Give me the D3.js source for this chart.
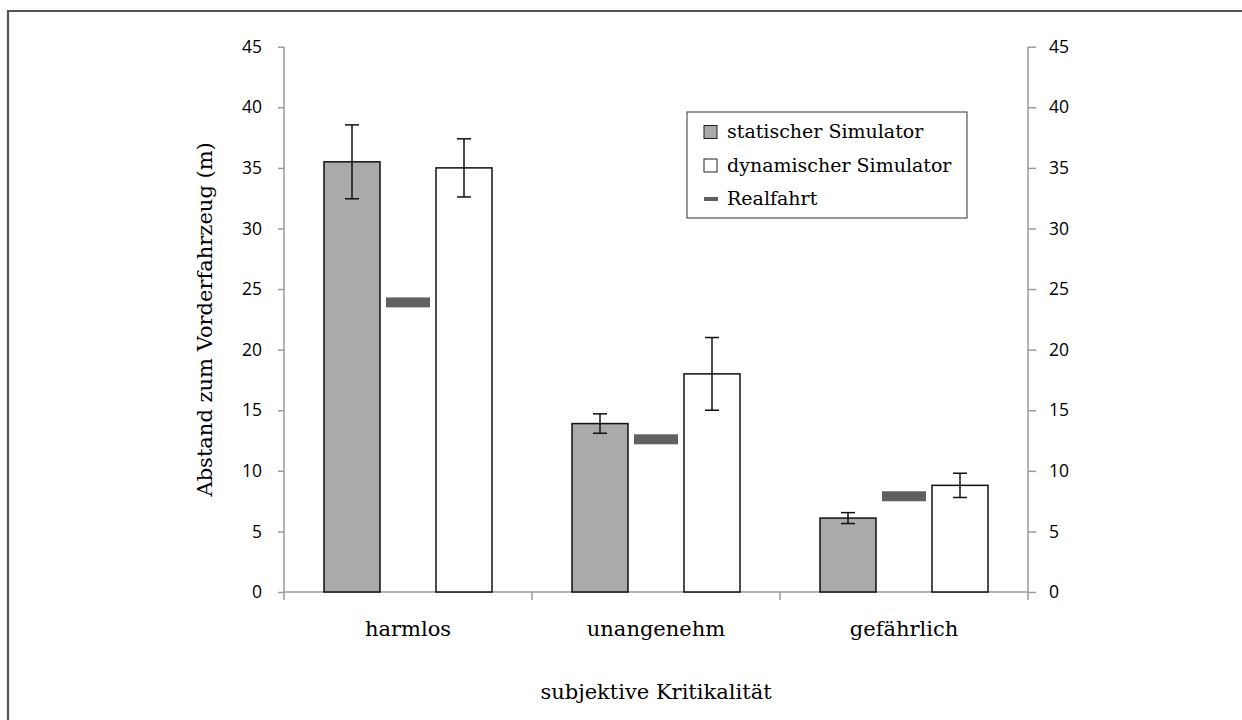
<!DOCTYPE html>
<html>
<head>
<meta charset="utf-8">
<script src="https://cdn.jsdelivr.net/npm/d3@7"></script>
<style>
  html, body { margin: 0; padding: 0; background: #fff; }
  svg { display: block; }
</style>
</head>
<body>
<svg id="chart" width="1242" height="720"></svg>
<script>
const categories = ["harmlos", "unangenehm", "gefährlich"];
const seriesNames = ["statischer Simulator", "dynamischer Simulator", "Realfahrt"];
const staticValues = [35.5, 13.9, 6.1];
const staticErrors = [3.05, 0.8, 0.45];
const dynamicValues = [35.0, 18.0, 8.8];
const dynamicErrors = [2.4, 3.0, 1.0];
const realValues = [23.9, 12.6, 7.9];
const yTicks = [0, 5, 10, 15, 20, 25, 30, 35, 40, 45];

const svg = d3.select("#chart");
const sansFont = "'Open Sans', 'Liberation Sans', sans-serif";
const serifFont = "'DejaVu Serif', 'Liberation Serif', serif";

// frame
svg.append("path")
  .attr("d", "M8,722 L8,11 L1244,11")
  .attr("fill", "none").attr("stroke", "#555").attr("stroke-width", 2.2);

const x0 = 284, x1 = 1028, yTop = 46.7, yBot = 592;
const x = d3.scaleBand().domain(categories).range([x0, x1]).padding(0);
const xs = d3.scaleBand().domain(["static", "real", "dynamic"]).range([40, x.bandwidth() - 40]).padding(0);
const y = d3.scaleLinear().domain([0, 45]).range([yBot, yTop]);

const axisColor = "#9a9a9a";

// left axis
const gl = svg.append("g").attr("transform", `translate(${x0},0)`)
  .call(d3.axisLeft(y).tickValues(yTicks).tickSize(6).tickPadding(16).tickFormat(d3.format("d")));
// right axis
const gr = svg.append("g").attr("transform", `translate(${x1},0)`)
  .call(d3.axisRight(y).tickValues(yTicks).tickSize(8).tickPadding(13).tickFormat(d3.format("d")));
[gl, gr].forEach(g => {
  g.select(".domain").attr("stroke", axisColor).attr("stroke-width", 1.5);
  g.selectAll(".tick line").attr("stroke", axisColor).attr("stroke-width", 1.5);
  g.selectAll(".tick text").attr("fill", "#000").style("font-family", sansFont).style("font-size", "17.5px");
});
gl.select(".domain").attr("d", `M0,${yTop}H0V${yBot}`);
gr.select(".domain").attr("d", `M0,${yTop}H0V${yBot}`);

// x axis
const gx = svg.append("g").attr("transform", `translate(0,${yBot})`);
gx.append("line").attr("x1", x0).attr("x2", x1).attr("y1", 0).attr("y2", 0)
  .attr("stroke", axisColor).attr("stroke-width", 1.5);
const boundaries = categories.map(c => x(c)).concat([x(categories[categories.length - 1]) + x.bandwidth()]);
gx.selectAll("line.tk").data(boundaries).enter().append("line").attr("class", "tk")
  .attr("x1", d => d).attr("x2", d => d).attr("y1", 0).attr("y2", 8)
  .attr("stroke", axisColor).attr("stroke-width", 1.5);
gx.selectAll("text.cat").data(categories).enter().append("text").attr("class", "cat")
  .attr("x", d => x(d) + x.bandwidth() / 2).attr("y", 44)
  .attr("text-anchor", "middle").style("font-family", serifFont).style("font-size", "21px")
  .text(d => d);

// bars
const barData = [];
categories.forEach((c, i) => {
  barData.push({ cat: c, key: "static", v: staticValues[i], e: staticErrors[i] });
  barData.push({ cat: c, key: "dynamic", v: dynamicValues[i], e: dynamicErrors[i] });
});
svg.append("g").selectAll("rect").data(barData).enter().append("rect")
  .attr("x", d => x(d.cat) + xs(d.key))
  .attr("width", xs.bandwidth())
  .attr("y", d => y(d.v))
  .attr("height", d => y(0) - y(d.v))
  .attr("fill", d => d.key === "static" ? "#aaaaaa" : "#ffffff")
  .attr("stroke", "#111").attr("stroke-width", 1.5);

// error bars
const eg = svg.append("g").attr("stroke", "#111").attr("stroke-width", 1.5);
barData.forEach(d => {
  const cx = x(d.cat) + xs(d.key) + xs.bandwidth() / 2;
  eg.append("line").attr("x1", cx).attr("x2", cx).attr("y1", y(d.v + d.e)).attr("y2", y(d.v - d.e));
  eg.append("line").attr("x1", cx - 7).attr("x2", cx + 7).attr("y1", y(d.v + d.e)).attr("y2", y(d.v + d.e));
  eg.append("line").attr("x1", cx - 7).attr("x2", cx + 7).attr("y1", y(d.v - d.e)).attr("y2", y(d.v - d.e));
});

// Realfahrt markers
svg.append("g").selectAll("rect").data(categories).enter().append("rect")
  .attr("x", c => x(c) + xs("real") + 6)
  .attr("width", xs.bandwidth() - 12)
  .attr("y", (c, i) => y(realValues[i]) - 5)
  .attr("height", 10)
  .attr("fill", "#606060");

// axis titles
svg.append("text")
  .attr("transform", `translate(212,${(yTop + yBot) / 2}) rotate(-90)`)
  .attr("text-anchor", "middle").style("font-family", serifFont).style("font-size", "21px")
  .text("Abstand zum Vorderfahrzeug (m)");
svg.append("text")
  .attr("x", (x0 + x1) / 2).attr("y", 699)
  .attr("text-anchor", "middle").style("font-family", serifFont).style("font-size", "21px")
  .text("subjektive Kritikalität");

// legend
const lg = svg.append("g");
lg.append("rect").attr("x", 687).attr("y", 112).attr("width", 280).attr("height", 106)
  .attr("fill", "#fff").attr("stroke", "#333").attr("stroke-width", 1);
const legendItems = [
  { name: seriesNames[0], type: "box", fill: "#aaaaaa" },
  { name: seriesNames[1], type: "box", fill: "#ffffff" },
  { name: seriesNames[2], type: "dash", fill: "#606060" }
];
legendItems.forEach((it, i) => {
  const cy = 132 + i * 33.5;
  if (it.type === "box") {
    lg.append("rect").attr("x", 704).attr("y", cy - 6.5).attr("width", 13).attr("height", 13)
      .attr("fill", it.fill).attr("stroke", "#222").attr("stroke-width", 1);
  } else {
    lg.append("rect").attr("x", 704).attr("y", cy - 2).attr("width", 14).attr("height", 4)
      .attr("fill", it.fill);
  }
  lg.append("text").attr("x", 727).attr("y", cy + 6)
    .style("font-family", serifFont).style("font-size", "19px").text(it.name);
});
</script>
</body>
</html>
